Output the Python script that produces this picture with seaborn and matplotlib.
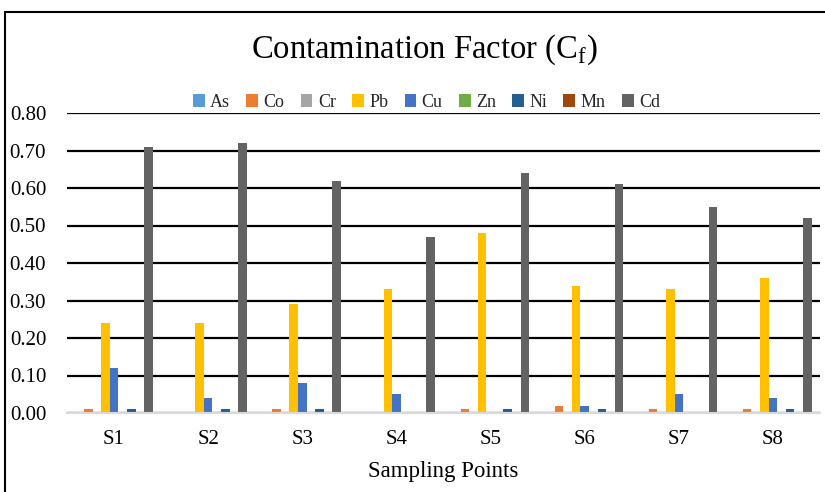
import matplotlib
matplotlib.use("Agg")
import matplotlib.pyplot as plt
import seaborn as sns
import pandas as pd
from matplotlib.patches import Patch
from matplotlib.lines import Line2D

sites = ["S1", "S2", "S3", "S4", "S5", "S6", "S7", "S8"]
metals = ["As", "Co", "Cr", "Pb", "Cu", "Zn", "Ni", "Mn", "Cd"]
As = [0, 0, 0, 0, 0, 0, 0, 0]
Co = [0.01, 0.00, 0.01, 0.00, 0.01, 0.02, 0.01, 0.01]
Cr = [0, 0, 0, 0, 0, 0, 0, 0]
Pb = [0.24, 0.24, 0.29, 0.33, 0.48, 0.34, 0.33, 0.36]
Cu = [0.12, 0.04, 0.08, 0.05, 0.00, 0.02, 0.05, 0.04]
Zn = [0, 0, 0, 0, 0, 0, 0, 0]
Ni = [0.01, 0.01, 0.01, 0.00, 0.01, 0.01, 0.00, 0.01]
Mn = [0, 0, 0, 0, 0, 0, 0, 0]
Cd = [0.71, 0.72, 0.62, 0.47, 0.64, 0.61, 0.55, 0.52]
yticks = [0.0, 0.1, 0.2, 0.3, 0.4, 0.5, 0.6, 0.7, 0.8]

series = dict(As=As, Co=Co, Cr=Cr, Pb=Pb, Cu=Cu, Zn=Zn, Ni=Ni, Mn=Mn, Cd=Cd)
colors = ["#5B9BD5", "#ED7D31", "#A5A5A5", "#FFC000", "#4472C4",
          "#70AD47", "#255E91", "#9E480E", "#636363"]

rows = []
for m in metals:
    for s, v in zip(sites, series[m]):
        rows.append({"site": s, "metal": m, "value": v})
df = pd.DataFrame(rows)

sns.set_theme(style="white")
plt.rcParams["font.family"] = ["Liberation Serif", "DejaVu Serif"]
plt.rcParams["mathtext.fontset"] = "custom"
plt.rcParams["mathtext.rm"] = "Liberation Serif"

fig = plt.figure(figsize=(8.25, 4.92), dpi=100)
ax = fig.add_axes([67/825, 1-413/492, (820-67)/825, (413-113)/492])

ax.yaxis.grid(True, color="black", linewidth=1.6, zorder=0)
ax.set_axisbelow(True)
sns.barplot(data=df, x="site", y="value", hue="metal", hue_order=metals,
            palette=colors, saturation=1, width=0.82, ax=ax, legend=False,
            edgecolor="none", linewidth=0, zorder=3)

ax.set_ylim(0, 0.8)
ax.set_yticks(yticks)
ax.set_yticklabels([f"{t:.2f}" for t in yticks], fontsize=15)
ax.set_xlim(-0.5, 7.5)
ax.tick_params(axis="both", length=0)
ax.tick_params(axis="y", pad=15)
ax.tick_params(axis="x", pad=12, labelsize=15)
for sp in ["top", "right", "left"]:
    ax.spines[sp].set_visible(False)
ax.spines["bottom"].set_color("#D9D9D9")
ax.spines["bottom"].set_linewidth(1.5)
ax.spines["bottom"].set_zorder(4)
ax.set_ylabel("")
ax.set_xlabel("Sampling Points", fontsize=16.5, labelpad=9, color="black")
for lab in ax.get_xticklabels() + ax.get_yticklabels():
    lab.set_color("black")

fig.text(0.514, 0.898, r"Contamination Factor (C$_\mathregular{f}$)",
         ha="center", va="center", fontsize=23.5, color="black")

handles = [Patch(facecolor=c, edgecolor="none") for c in colors]
fig.legend(handles, metals, loc="center", bbox_to_anchor=(0.517, 0.792),
           ncol=9, frameon=False, fontsize=13, handlelength=0.65,
           handleheight=0.65, handletextpad=0.3, columnspacing=0.9)

# chart area border (partially visible)
fig.add_artist(Line2D([5/825, 5/825], [0, 1-12/492], transform=fig.transFigure,
                      color="black", linewidth=1.5))
fig.add_artist(Line2D([5/825, 1.0], [1-12/492, 1-12/492], transform=fig.transFigure,
                      color="black", linewidth=1.5))

fig.savefig("out.png", dpi=100)
